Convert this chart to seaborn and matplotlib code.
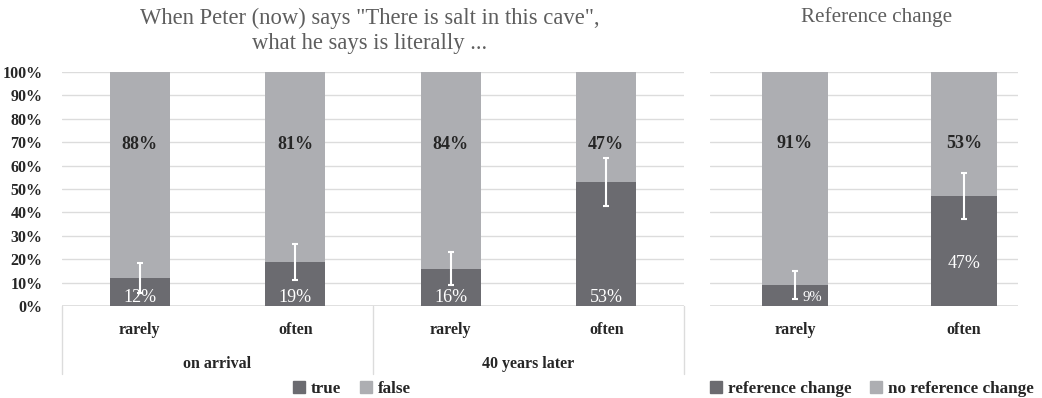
import matplotlib
matplotlib.use("Agg")
import matplotlib.pyplot as plt
from matplotlib.patches import Patch
from matplotlib.transforms import blended_transform_factory
import seaborn as sns
import pandas as pd

# ---- data -------------------------------------------------------------
left_groups = ["on arrival", "40 years later"]
left_freq = ["rarely", "often", "rarely", "often"]
left_true = [12, 19, 16, 53]
left_false = [88, 81, 84, 47]
left_err = [6.5, 7.7, 7.2, 10.3]

right_freq = ["rarely", "often"]
right_change = [9, 47]
right_nochange = [91, 53]
right_err = [6, 10]

left_title = 'When Peter (now) says "There is salt in this cave",\nwhat he says is literally ...'
right_title = "Reference change"
left_legend = ["true", "false"]
right_legend = ["reference change", "no reference change"]
yticks = [0, 10, 20, 30, 40, 50, 60, 70, 80, 90, 100]

# ---- style ------------------------------------------------------------
sns.set_theme(style="white")
plt.rcParams["font.family"] = ["Liberation Serif", "DejaVu Serif"]
DARK = "#6b6b70"
LIGHT = "#adaeb2"
GRID = "#dcdcdc"
TXT = "#262626"
TITLE = "#5e5e5e"

fig = plt.figure(figsize=(10.42, 3.98), dpi=100)
W, H = 1042, 398


def axes_rect(x0, x1, y_top, y_bot):
    return [x0 / W, (H - y_bot) / H, (x1 - x0) / W, (y_bot - y_top) / H]


ax_l = fig.add_axes(axes_rect(62, 684, 72, 306))
ax_r = fig.add_axes(axes_rect(710, 1018, 72, 306))

left_keys = [f"{g}|{f}" for g in left_groups for f in ["rarely", "often"]]
df_left = pd.DataFrame({"key": left_keys, "true": left_true,
                        "total": [t + f for t, f in zip(left_true, left_false)]})
df_right = pd.DataFrame({"key": right_freq, "change": right_change,
                         "total": [c + n for c, n in zip(right_change, right_nochange)]})

bar_kw = dict(saturation=1, linewidth=0, edgecolor="none")
# stacked bars: full height in light grey, lower segment in dark grey
sns.barplot(data=df_left, x="key", y="total", order=left_keys, color=LIGHT,
            width=0.385, ax=ax_l, zorder=2, **bar_kw)
sns.barplot(data=df_left, x="key", y="true", order=left_keys, color=DARK,
            width=0.385, ax=ax_l, zorder=3, **bar_kw)
sns.barplot(data=df_right, x="key", y="total", order=right_freq, color=LIGHT,
            width=0.39, ax=ax_r, zorder=2, **bar_kw)
sns.barplot(data=df_right, x="key", y="change", order=right_freq, color=DARK,
            width=0.39, ax=ax_r, zorder=3, **bar_kw)

# error bars in white on the lower segment
ax_l.errorbar(range(len(left_true)), left_true, yerr=left_err, fmt="none",
              ecolor="white", elinewidth=1.5, capsize=2.5, capthick=1.5, zorder=5)
ax_r.errorbar(range(len(right_change)), right_change, yerr=right_err, fmt="none",
              ecolor="white", elinewidth=1.5, capsize=2.5, capthick=1.5, zorder=5)

for ax in (ax_l, ax_r):
    ax.set_ylim(0, 100)
    ax.set_yticks(yticks)
    ax.yaxis.grid(True, color=GRID, linewidth=1)
    ax.set_axisbelow(True)
    for s in ax.spines.values():
        s.set_visible(False)
    ax.axhline(0, color=GRID, linewidth=1.2, zorder=1)
    ax.set_xlabel("")
    ax.set_ylabel("")
    ax.tick_params(axis="x", length=0, labelbottom=False)
    ax.tick_params(axis="y", length=0)
    ax.set_facecolor("white")

ax_l.set_xlim(-0.5, 3.5)
ax_r.set_xlim(-0.503, 1.32)
ax_l.set_yticklabels([f"{v}%" for v in yticks], fontsize=11.5,
                     fontweight="bold", color=TXT)
ax_l.tick_params(axis="y", pad=14)
ax_r.set_yticklabels([])

# value labels
for i, (t, f) in enumerate(zip(left_true, left_false)):
    ax_l.text(i, 69, f"{f}%", ha="center", va="center", fontsize=13,
              fontweight="bold", color=TXT, zorder=6)
    ax_l.text(i, 3.8, f"{t}%", ha="center", va="center", fontsize=13,
              color="white", zorder=6)
for i, n in enumerate(right_nochange):
    ax_r.text(i, 69.5, f"{n}%", ha="center", va="center", fontsize=13,
              fontweight="bold", color=TXT, zorder=6)
ax_r.text(0.1, 3.5, f"{right_change[0]}%", ha="center", va="center",
          fontsize=10.5, color="white", zorder=6)
ax_r.text(1, 18, f"{right_change[1]}%", ha="center", va="center",
          fontsize=13, color="white", zorder=6)

# multi-level category axis
tl = blended_transform_factory(ax_l.transData, ax_l.transAxes)
tr = blended_transform_factory(ax_r.transData, ax_r.transAxes)
for i, lab in enumerate(left_freq):
    ax_l.text(i, -0.103, lab, transform=tl, ha="center", va="center",
              fontsize=11.5, fontweight="bold", color=TXT)
for g, lab in enumerate(left_groups):
    ax_l.text(2 * g + 0.5, -0.248, lab, transform=tl, ha="center", va="center",
              fontsize=11.5, fontweight="bold", color=TXT)
for xs in (-0.5, 1.5, 3.5):
    ax_l.plot([xs, xs], [0, -0.29], transform=tl, color=GRID, linewidth=1,
              clip_on=False)
for i, lab in enumerate(right_freq):
    ax_r.text(i, -0.103, lab, transform=tr, ha="center", va="center",
              fontsize=11.5, fontweight="bold", color=TXT)

# titles
fig.text(370 / W, 1 - 31 / H, left_title, ha="center", va="center",
         fontsize=16.3, color=TITLE, linespacing=1.25)
fig.text(877 / W, 1 - 17 / H, right_title, ha="center", va="center",
         fontsize=15.2, color=TITLE)

# legends
leg_kw = dict(frameon=False, ncol=2, handlelength=0.7, handleheight=0.7,
              handletextpad=0.35, columnspacing=1.1, borderaxespad=0,
              prop={"weight": "bold", "size": 12.3})
fig.legend(handles=[Patch(color=DARK, label=left_legend[0]),
                    Patch(color=LIGHT, label=left_legend[1])],
           loc="center", bbox_to_anchor=(352 / W, 1 - 389 / H), **leg_kw)
for txt in fig.legends[-1].get_texts():
    txt.set_color(TXT)
fig.legend(handles=[Patch(color=DARK, label=right_legend[0]),
                    Patch(color=LIGHT, label=right_legend[1])],
           loc="center", bbox_to_anchor=(872 / W, 1 - 389 / H), **leg_kw)
for txt in fig.legends[-1].get_texts():
    txt.set_color(TXT)

fig.savefig("out.png", dpi=100, facecolor="white")
